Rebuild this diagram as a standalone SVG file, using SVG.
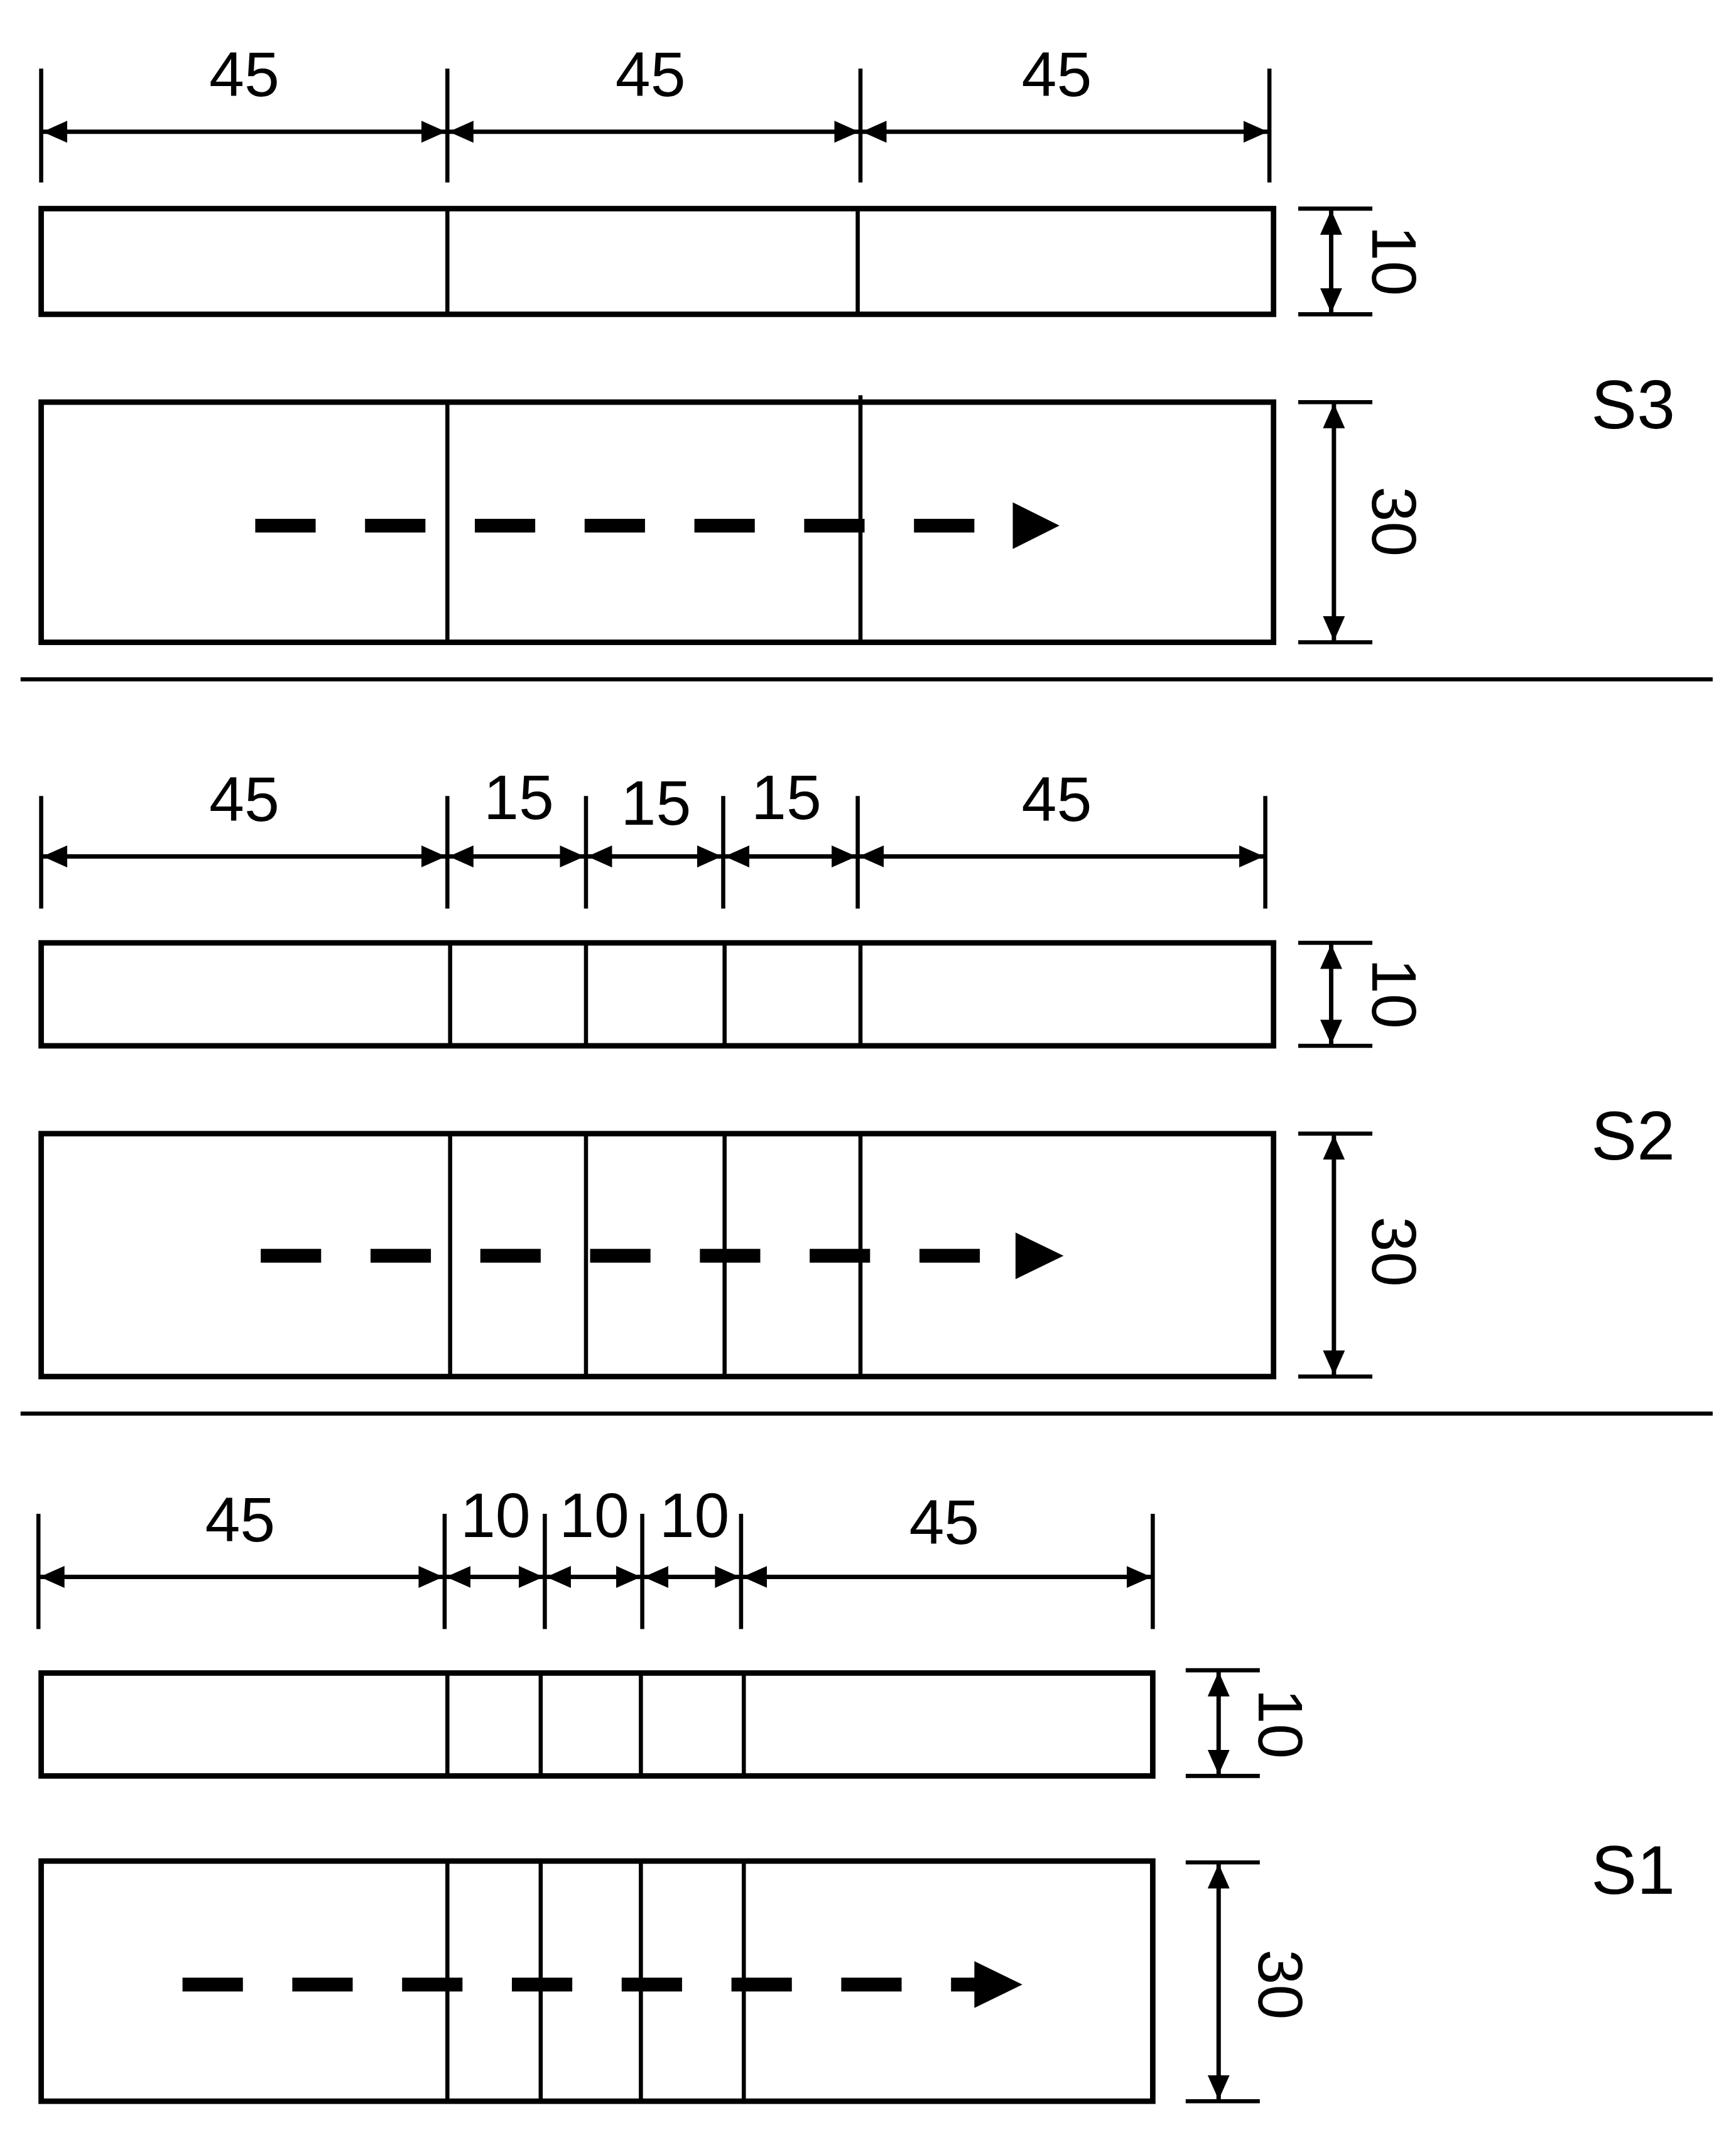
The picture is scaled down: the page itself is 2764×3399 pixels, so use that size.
<svg xmlns="http://www.w3.org/2000/svg" width="2764" height="3399" viewBox="0 0 2764 3399">
<style>
.box{fill:none;stroke:#000;stroke-width:4}
.div{stroke:#000;stroke-width:3}
.tick{stroke:#000;stroke-width:3}
.dim{stroke:#000;stroke-width:3.2;marker-start:url(#ah);marker-end:url(#ah)}
.flow{stroke:#000;stroke-width:10;stroke-dasharray:44 36}
.t{font-family:"Liberation Sans",Arial,sans-serif;font-size:46px;fill:#000;text-anchor:middle}
.s{font-family:"Liberation Sans",Arial,sans-serif;font-size:50px;fill:#000;text-anchor:middle}
</style>
<defs>
<marker id="ah" viewBox="0 0 18 16" refX="18" refY="8" markerWidth="18" markerHeight="16" markerUnits="userSpaceOnUse" orient="auto-start-reverse"><path d="M0,0 L18,8 L0,16 Z" fill="#000"/></marker>
</defs>
<rect width="2764" height="3399" fill="#fff"/>
<g transform="scale(2.185)">
<g id="S3">
<line class="tick" x1="30" y1="50" x2="30" y2="133"/><line class="tick" x1="326" y1="50" x2="326" y2="133"/><line class="tick" x1="627" y1="50" x2="627" y2="133"/><line class="tick" x1="925" y1="50" x2="925" y2="133"/>
<line class="dim" x1="31" y1="96" x2="325" y2="96"/><line class="dim" x1="327" y1="96" x2="626" y2="96"/><line class="dim" x1="628" y1="96" x2="924" y2="96"/>
<text class="t" x="178" y="70">45</text><text class="t" x="474" y="70">45</text><text class="t" x="770" y="70">45</text>
<rect class="box" x="30" y="152" width="898" height="77"/>
<line class="div" x1="326" y1="152" x2="326" y2="229"/><line class="div" x1="625" y1="152" x2="625" y2="229"/>
<line class="tick" x1="946" y1="152" x2="1000" y2="152"/><line class="tick" x1="946" y1="229" x2="1000" y2="229"/>
<line class="dim" x1="970" y1="153" x2="970" y2="228"/>
<text class="t" transform="translate(1000,190) rotate(90)">10</text>
<rect class="box" x="30" y="293" width="898" height="175"/>
<line class="div" x1="326" y1="293" x2="326" y2="468"/><line class="div" x1="627" y1="288" x2="627" y2="468"/>
<line class="tick" x1="946" y1="293" x2="1000" y2="293"/><line class="tick" x1="946" y1="468" x2="1000" y2="468"/>
<line class="dim" x1="972" y1="294" x2="972" y2="467"/>
<text class="t" transform="translate(1000,380) rotate(90)">30</text>
<line class="flow" x1="186" y1="383" x2="742" y2="383"/><path d="M738,366 L772,383 L738,400 Z"/>
<text class="s" x="1190" y="312">S3</text>
</g>
<line class="div" x1="15" y1="495" x2="1248" y2="495"/>
<g id="S2">
<line class="tick" x1="30" y1="580" x2="30" y2="662"/><line class="tick" x1="326" y1="580" x2="326" y2="662"/><line class="tick" x1="427" y1="580" x2="427" y2="662"/><line class="tick" x1="527" y1="580" x2="527" y2="662"/><line class="tick" x1="625" y1="580" x2="625" y2="662"/><line class="tick" x1="922" y1="580" x2="922" y2="662"/>
<line class="dim" x1="31" y1="624" x2="325" y2="624"/><line class="dim" x1="327" y1="624" x2="426" y2="624"/><line class="dim" x1="428" y1="624" x2="526" y2="624"/><line class="dim" x1="528" y1="624" x2="624" y2="624"/><line class="dim" x1="626" y1="624" x2="921" y2="624"/>
<text class="t" x="178" y="598">45</text><text class="t" x="378" y="597">15</text><text class="t" x="478" y="601">15</text><text class="t" x="573" y="597">15</text><text class="t" x="770" y="598">45</text>
<rect class="box" x="30" y="687" width="898" height="75"/>
<line class="div" x1="328" y1="687" x2="328" y2="762"/><line class="div" x1="427" y1="687" x2="427" y2="762"/><line class="div" x1="528" y1="687" x2="528" y2="762"/><line class="div" x1="627" y1="687" x2="627" y2="762"/>
<line class="tick" x1="946" y1="687" x2="1000" y2="687"/><line class="tick" x1="946" y1="762" x2="1000" y2="762"/>
<line class="dim" x1="970" y1="688" x2="970" y2="761"/>
<text class="t" transform="translate(1000,724) rotate(90)">10</text>
<rect class="box" x="30" y="826" width="898" height="177"/>
<line class="div" x1="328" y1="826" x2="328" y2="1003"/><line class="div" x1="427" y1="826" x2="427" y2="1003"/><line class="div" x1="528" y1="826" x2="528" y2="1003"/><line class="div" x1="627" y1="826" x2="627" y2="1003"/>
<line class="tick" x1="946" y1="826" x2="1000" y2="826"/><line class="tick" x1="946" y1="1003" x2="1000" y2="1003"/>
<line class="dim" x1="972" y1="827" x2="972" y2="1002"/>
<text class="t" transform="translate(1000,912) rotate(90)">30</text>
<line class="flow" x1="190" y1="915" x2="744" y2="915"/><path d="M740,898 L775,915 L740,932 Z"/>
<text class="s" x="1190" y="845">S2</text>
</g>
<line class="div" x1="15" y1="1030" x2="1248" y2="1030"/>
<g id="S1">
<line class="tick" x1="28" y1="1103" x2="28" y2="1187"/><line class="tick" x1="324" y1="1103" x2="324" y2="1187"/><line class="tick" x1="397" y1="1103" x2="397" y2="1187"/><line class="tick" x1="468" y1="1103" x2="468" y2="1187"/><line class="tick" x1="540" y1="1103" x2="540" y2="1187"/><line class="tick" x1="840" y1="1103" x2="840" y2="1187"/>
<line class="dim" x1="29" y1="1149" x2="323" y2="1149"/><line class="dim" x1="325" y1="1149" x2="396" y2="1149"/><line class="dim" x1="398" y1="1149" x2="467" y2="1149"/><line class="dim" x1="469" y1="1149" x2="539" y2="1149"/><line class="dim" x1="541" y1="1149" x2="839" y2="1149"/>
<text class="t" x="175" y="1123">45</text><text class="t" x="361" y="1120">10</text><text class="t" x="433" y="1120">10</text><text class="t" x="506" y="1120">10</text><text class="t" x="688" y="1125">45</text>
<rect class="box" x="30" y="1219" width="810" height="75"/>
<line class="div" x1="326" y1="1219" x2="326" y2="1294"/><line class="div" x1="394" y1="1219" x2="394" y2="1294"/><line class="div" x1="467" y1="1219" x2="467" y2="1294"/><line class="div" x1="542" y1="1219" x2="542" y2="1294"/>
<line class="tick" x1="864" y1="1217" x2="918" y2="1217"/><line class="tick" x1="864" y1="1294" x2="918" y2="1294"/>
<line class="dim" x1="888" y1="1218" x2="888" y2="1293"/>
<text class="t" transform="translate(917,1256) rotate(90)">10</text>
<rect class="box" x="30" y="1356" width="810" height="175"/>
<line class="div" x1="326" y1="1356" x2="326" y2="1531"/><line class="div" x1="394" y1="1356" x2="394" y2="1531"/><line class="div" x1="467" y1="1356" x2="467" y2="1531"/><line class="div" x1="542" y1="1356" x2="542" y2="1531"/>
<line class="tick" x1="864" y1="1357" x2="918" y2="1357"/><line class="tick" x1="864" y1="1531" x2="918" y2="1531"/>
<line class="dim" x1="888" y1="1358" x2="888" y2="1530"/>
<text class="t" transform="translate(917,1446) rotate(90)">30</text>
<line class="flow" x1="133" y1="1446" x2="712" y2="1446"/><path d="M710,1429 L745,1446 L710,1463 Z"/>
<text class="s" x="1190" y="1380">S1</text>
</g>
</g>
</svg>
